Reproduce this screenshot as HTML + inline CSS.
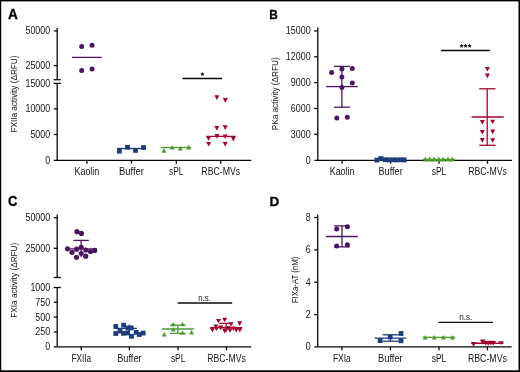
<!DOCTYPE html>
<html><head><meta charset="utf-8">
<style>
html,body{margin:0;padding:0;background:#fff;}
body{width:520px;height:372px;overflow:hidden;}
svg{display:block;will-change:transform;filter:blur(0.3px);font-variant-ligatures:none;font-family:"Liberation Sans",sans-serif;}
</style></head>
<body>
<svg width="520" height="372" viewBox="0 0 520 372">
<rect x="0" y="0" width="520" height="372" fill="#fff"/>
<text x="8.0" y="18.9" font-size="14" text-anchor="start" font-weight="bold" fill="#000" textLength="9.9" lengthAdjust="spacingAndGlyphs" stroke="#000" stroke-width="0.3">A</text>
<line x1="57.2" y1="28" x2="57.2" y2="79.7" stroke="#080808" stroke-width="1.3"/>
<line x1="57.2" y1="83.4" x2="57.2" y2="160.3" stroke="#080808" stroke-width="1.3"/>
<line x1="53.7" y1="79.7" x2="60.8" y2="79.7" stroke="#080808" stroke-width="1.3"/>
<line x1="53.7" y1="83.4" x2="60.8" y2="83.4" stroke="#080808" stroke-width="1.3"/>
<line x1="53.8" y1="30.9" x2="57.2" y2="30.9" stroke="#080808" stroke-width="1.3"/>
<text x="50.2" y="34.3" font-size="10.2" text-anchor="end" font-weight="normal" fill="#141414" textLength="24.75" lengthAdjust="spacingAndGlyphs">50000</text>
<line x1="53.8" y1="65.6" x2="57.2" y2="65.6" stroke="#080808" stroke-width="1.3"/>
<text x="50.2" y="69.0" font-size="10.2" text-anchor="end" font-weight="normal" fill="#141414" textLength="24.75" lengthAdjust="spacingAndGlyphs">25000</text>
<text x="50.2" y="86.8" font-size="10.2" text-anchor="end" font-weight="normal" fill="#141414" textLength="24.75" lengthAdjust="spacingAndGlyphs">15000</text>
<line x1="53.8" y1="108.9" x2="57.2" y2="108.9" stroke="#080808" stroke-width="1.3"/>
<text x="50.2" y="112.3" font-size="10.2" text-anchor="end" font-weight="normal" fill="#141414" textLength="24.75" lengthAdjust="spacingAndGlyphs">10000</text>
<line x1="53.8" y1="134.5" x2="57.2" y2="134.5" stroke="#080808" stroke-width="1.3"/>
<text x="50.2" y="137.9" font-size="10.2" text-anchor="end" font-weight="normal" fill="#141414" textLength="19.8" lengthAdjust="spacingAndGlyphs">5000</text>
<text x="50.2" y="163.6" font-size="10.2" text-anchor="end" font-weight="normal" fill="#141414" textLength="4.95" lengthAdjust="spacingAndGlyphs">0</text>
<line x1="53.8" y1="160.3" x2="251.3" y2="160.3" stroke="#080808" stroke-width="1.3"/>
<line x1="86.9" y1="160.3" x2="86.9" y2="163.70000000000002" stroke="#080808" stroke-width="1.3"/>
<text x="86.9" y="175.1" font-size="10.1" text-anchor="middle" font-weight="normal" fill="#141414" textLength="24.9" lengthAdjust="spacingAndGlyphs">Kaolin</text>
<line x1="131.5" y1="160.3" x2="131.5" y2="163.70000000000002" stroke="#080808" stroke-width="1.3"/>
<text x="131.5" y="175.1" font-size="10.1" text-anchor="middle" font-weight="normal" fill="#141414" textLength="24.8" lengthAdjust="spacingAndGlyphs">Buffer</text>
<line x1="176.3" y1="160.3" x2="176.3" y2="163.70000000000002" stroke="#080808" stroke-width="1.3"/>
<text x="176.3" y="175.1" font-size="10.1" text-anchor="middle" font-weight="normal" fill="#141414" textLength="14.5" lengthAdjust="spacingAndGlyphs">sPL</text>
<line x1="220.8" y1="160.3" x2="220.8" y2="163.70000000000002" stroke="#080808" stroke-width="1.3"/>
<text x="220.8" y="175.1" font-size="10.1" text-anchor="middle" font-weight="normal" fill="#141414" textLength="38.9" lengthAdjust="spacingAndGlyphs">RBC-MVs</text>
<text transform="translate(17.3,94) rotate(-90)" x="0" y="0" font-size="9.7" text-anchor="middle" fill="#141414" textLength="77" lengthAdjust="spacingAndGlyphs">FXIIa activity (ΔRFU)</text>
<line x1="72" y1="57.4" x2="101.7" y2="57.4" stroke="#4a1762" stroke-width="1.3"/>
<circle cx="81.7" cy="46.5" r="2.5" fill="#4a1762"/>
<circle cx="92.1" cy="45.3" r="2.5" fill="#4a1762"/>
<circle cx="81.7" cy="70.5" r="2.5" fill="#4a1762"/>
<circle cx="92.1" cy="69.0" r="2.5" fill="#4a1762"/>
<line x1="117" y1="148.5" x2="146" y2="148.5" stroke="#1d3c7c" stroke-width="1.3"/>
<rect x="117.00" y="148.80" width="4.8" height="4.8" fill="#1d3c7c"/>
<rect x="125.10" y="144.90" width="4.8" height="4.8" fill="#1d3c7c"/>
<rect x="133.10" y="148.00" width="4.8" height="4.8" fill="#1d3c7c"/>
<rect x="141.10" y="145.10" width="4.8" height="4.8" fill="#1d3c7c"/>
<line x1="161" y1="147.5" x2="191" y2="147.5" stroke="#4b9b2d" stroke-width="1.3"/>
<polygon points="164.00,148.10 166.50,152.70 161.50,152.70" fill="#4b9b2d"/>
<polygon points="172.10,145.00 174.60,149.60 169.60,149.60" fill="#4b9b2d"/>
<polygon points="180.30,146.00 182.80,150.60 177.80,150.60" fill="#4b9b2d"/>
<polygon points="188.60,144.80 191.10,149.60 186.10,149.60" fill="#4b9b2d"/>
<line x1="206" y1="136.4" x2="235.7" y2="136.4" stroke="#a3032b" stroke-width="1.3"/>
<polygon points="214.40,95.30 219.40,95.30 216.90,99.90" fill="#a3032b"/>
<polygon points="222.80,98.00 227.80,98.00 225.30,102.80" fill="#a3032b"/>
<polygon points="214.30,126.10 219.30,126.10 216.80,130.70" fill="#a3032b"/>
<polygon points="222.70,125.20 227.70,125.20 225.20,129.90" fill="#a3032b"/>
<polygon points="214.50,134.00 219.50,134.00 217.00,138.70" fill="#a3032b"/>
<polygon points="222.70,134.40 227.70,134.40 225.20,138.90" fill="#a3032b"/>
<polygon points="206.10,136.30 211.10,136.30 208.60,140.80" fill="#a3032b"/>
<polygon points="230.80,136.60 235.80,136.60 233.30,141.40" fill="#a3032b"/>
<polygon points="206.20,141.90 211.20,141.90 208.70,146.50" fill="#a3032b"/>
<polygon points="222.70,141.90 227.70,141.90 225.20,146.60" fill="#a3032b"/>
<line x1="182.5" y1="78.5" x2="222.1" y2="78.5" stroke="#080808" stroke-width="1.3"/>
<polygon points="202.40,72.00 203.05,73.31 204.49,73.52 203.45,74.54 203.69,75.98 202.40,75.30 201.11,75.98 201.35,74.54 200.31,73.52 201.75,73.31" fill="#111"/>
<text x="269.3" y="18.9" font-size="13.6" text-anchor="start" font-weight="bold" fill="#000" textLength="8.6" lengthAdjust="spacingAndGlyphs" stroke="#000" stroke-width="0.3">B</text>
<line x1="317.8" y1="27.6" x2="317.8" y2="160.3" stroke="#080808" stroke-width="1.3"/>
<line x1="314.2" y1="30.9" x2="317.8" y2="30.9" stroke="#080808" stroke-width="1.3"/>
<text x="310.6" y="34.3" font-size="10.2" text-anchor="end" font-weight="normal" fill="#141414" textLength="24.75" lengthAdjust="spacingAndGlyphs">15000</text>
<line x1="314.2" y1="56.8" x2="317.8" y2="56.8" stroke="#080808" stroke-width="1.3"/>
<text x="310.6" y="60.2" font-size="10.2" text-anchor="end" font-weight="normal" fill="#141414" textLength="24.75" lengthAdjust="spacingAndGlyphs">12000</text>
<line x1="314.2" y1="82.6" x2="317.8" y2="82.6" stroke="#080808" stroke-width="1.3"/>
<text x="310.6" y="86.0" font-size="10.2" text-anchor="end" font-weight="normal" fill="#141414" textLength="19.8" lengthAdjust="spacingAndGlyphs">9000</text>
<line x1="314.2" y1="108.5" x2="317.8" y2="108.5" stroke="#080808" stroke-width="1.3"/>
<text x="310.6" y="111.9" font-size="10.2" text-anchor="end" font-weight="normal" fill="#141414" textLength="19.8" lengthAdjust="spacingAndGlyphs">6000</text>
<line x1="314.2" y1="134.3" x2="317.8" y2="134.3" stroke="#080808" stroke-width="1.3"/>
<text x="310.6" y="137.7" font-size="10.2" text-anchor="end" font-weight="normal" fill="#141414" textLength="19.8" lengthAdjust="spacingAndGlyphs">3000</text>
<text x="310.6" y="163.7" font-size="10.2" text-anchor="end" font-weight="normal" fill="#141414" textLength="4.95" lengthAdjust="spacingAndGlyphs">0</text>
<line x1="314.4" y1="160.3" x2="511.9" y2="160.3" stroke="#080808" stroke-width="1.3"/>
<line x1="342.1" y1="160.3" x2="342.1" y2="163.70000000000002" stroke="#080808" stroke-width="1.3"/>
<text x="342.1" y="175.1" font-size="10.1" text-anchor="middle" font-weight="normal" fill="#141414" textLength="24.8" lengthAdjust="spacingAndGlyphs">Kaolin</text>
<line x1="390.6" y1="160.3" x2="390.6" y2="163.70000000000002" stroke="#080808" stroke-width="1.3"/>
<text x="390.6" y="175.1" font-size="10.1" text-anchor="middle" font-weight="normal" fill="#141414" textLength="24.2" lengthAdjust="spacingAndGlyphs">Buffer</text>
<line x1="439.0" y1="160.3" x2="439.0" y2="163.70000000000002" stroke="#080808" stroke-width="1.3"/>
<text x="439.0" y="175.1" font-size="10.1" text-anchor="middle" font-weight="normal" fill="#141414" textLength="14.6" lengthAdjust="spacingAndGlyphs">sPL</text>
<line x1="487.5" y1="160.3" x2="487.5" y2="163.70000000000002" stroke="#080808" stroke-width="1.3"/>
<text x="487.5" y="175.1" font-size="10.1" text-anchor="middle" font-weight="normal" fill="#141414" textLength="38.7" lengthAdjust="spacingAndGlyphs">RBC-MVs</text>
<text transform="translate(278.3,93.8) rotate(-90)" x="0" y="0" font-size="9.7" text-anchor="middle" fill="#141414" textLength="73" lengthAdjust="spacingAndGlyphs">PKa activity (ΔRFU)</text>
<line x1="341.9" y1="66.4" x2="341.9" y2="107.2" stroke="#4a1762" stroke-width="1.3"/>
<line x1="333.9" y1="66.4" x2="349.9" y2="66.4" stroke="#4a1762" stroke-width="1.3"/>
<line x1="333.9" y1="107.2" x2="349.9" y2="107.2" stroke="#4a1762" stroke-width="1.3"/>
<line x1="326.1" y1="86.6" x2="357.9" y2="86.6" stroke="#4a1762" stroke-width="1.3"/>
<circle cx="331.6" cy="72.4" r="2.5" fill="#4a1762"/>
<circle cx="341.9" cy="69.1" r="2.5" fill="#4a1762"/>
<circle cx="352.3" cy="68.5" r="2.5" fill="#4a1762"/>
<circle cx="341.9" cy="76.9" r="2.5" fill="#4a1762"/>
<circle cx="352.3" cy="83.0" r="2.5" fill="#4a1762"/>
<circle cx="341.9" cy="87.5" r="2.5" fill="#4a1762"/>
<circle cx="336.8" cy="118.0" r="2.5" fill="#4a1762"/>
<circle cx="347.3" cy="117.3" r="2.5" fill="#4a1762"/>
<rect x="374.50" y="157.70" width="4.8" height="4.8" fill="#1d3c7c"/>
<rect x="378.40" y="156.10" width="4.8" height="4.8" fill="#1d3c7c"/>
<rect x="382.80" y="157.30" width="4.8" height="4.8" fill="#1d3c7c"/>
<rect x="386.80" y="157.50" width="4.8" height="4.8" fill="#1d3c7c"/>
<rect x="390.80" y="157.40" width="4.8" height="4.8" fill="#1d3c7c"/>
<rect x="394.80" y="157.50" width="4.8" height="4.8" fill="#1d3c7c"/>
<rect x="398.80" y="157.40" width="4.8" height="4.8" fill="#1d3c7c"/>
<rect x="401.80" y="157.50" width="4.8" height="4.8" fill="#1d3c7c"/>
<polygon points="425.40,156.60 427.90,161.60 422.90,161.60" fill="#4b9b2d"/>
<polygon points="429.60,156.60 432.10,161.60 427.10,161.60" fill="#4b9b2d"/>
<polygon points="434.20,156.60 436.70,161.60 431.70,161.60" fill="#4b9b2d"/>
<polygon points="438.80,156.60 441.30,161.60 436.30,161.60" fill="#4b9b2d"/>
<polygon points="443.00,156.60 445.50,161.60 440.50,161.60" fill="#4b9b2d"/>
<polygon points="448.00,156.60 450.50,161.60 445.50,161.60" fill="#4b9b2d"/>
<polygon points="452.30,156.60 454.80,161.60 449.80,161.60" fill="#4b9b2d"/>
<line x1="423" y1="159.6" x2="455" y2="159.6" stroke="#4b9b2d" stroke-width="1.6"/>
<line x1="487.2" y1="88.8" x2="487.2" y2="145.3" stroke="#a3032b" stroke-width="1.3"/>
<line x1="479.2" y1="88.8" x2="495.6" y2="88.8" stroke="#a3032b" stroke-width="1.3"/>
<line x1="479.2" y1="145.3" x2="495.6" y2="145.3" stroke="#a3032b" stroke-width="1.3"/>
<line x1="471.5" y1="117.0" x2="503.7" y2="117.0" stroke="#a3032b" stroke-width="1.3"/>
<polygon points="484.90,67.00 489.90,67.00 487.40,71.60" fill="#a3032b"/>
<polygon points="484.90,73.40 489.90,73.40 487.40,78.20" fill="#a3032b"/>
<polygon points="479.80,120.10 484.80,120.10 482.30,124.50" fill="#a3032b"/>
<polygon points="490.20,119.70 495.20,119.70 492.70,124.00" fill="#a3032b"/>
<polygon points="479.80,130.00 484.80,130.00 482.30,134.60" fill="#a3032b"/>
<polygon points="490.20,129.60 495.20,129.60 492.70,134.20" fill="#a3032b"/>
<polygon points="479.80,138.10 484.80,138.10 482.30,142.70" fill="#a3032b"/>
<polygon points="490.20,138.20 495.20,138.20 492.70,142.80" fill="#a3032b"/>
<line x1="441" y1="50.5" x2="489.9" y2="50.5" stroke="#080808" stroke-width="1.3"/>
<polygon points="461.60,43.80 462.25,45.11 463.69,45.32 462.65,46.34 462.89,47.78 461.60,47.10 460.31,47.78 460.55,46.34 459.51,45.32 460.95,45.11" fill="#111"/>
<polygon points="465.60,43.80 466.25,45.11 467.69,45.32 466.65,46.34 466.89,47.78 465.60,47.10 464.31,47.78 464.55,46.34 463.51,45.32 464.95,45.11" fill="#111"/>
<polygon points="469.60,43.80 470.25,45.11 471.69,45.32 470.65,46.34 470.89,47.78 469.60,47.10 468.31,47.78 468.55,46.34 467.51,45.32 468.95,45.11" fill="#111"/>
<text x="8.0" y="205.9" font-size="13.8" text-anchor="start" font-weight="bold" fill="#000" textLength="9.4" lengthAdjust="spacingAndGlyphs" stroke="#000" stroke-width="0.3">C</text>
<line x1="57.2" y1="214.5" x2="57.2" y2="277.5" stroke="#080808" stroke-width="1.3"/>
<line x1="57.2" y1="287.5" x2="57.2" y2="346.8" stroke="#080808" stroke-width="1.3"/>
<line x1="53.7" y1="277.5" x2="60.8" y2="277.5" stroke="#080808" stroke-width="1.3"/>
<line x1="53.7" y1="287.5" x2="60.8" y2="287.5" stroke="#080808" stroke-width="1.3"/>
<line x1="53.8" y1="217.7" x2="57.2" y2="217.7" stroke="#080808" stroke-width="1.3"/>
<text x="50.2" y="221.1" font-size="10.2" text-anchor="end" font-weight="normal" fill="#141414" textLength="24.75" lengthAdjust="spacingAndGlyphs">50000</text>
<line x1="53.8" y1="248.3" x2="57.2" y2="248.3" stroke="#080808" stroke-width="1.3"/>
<text x="50.2" y="251.7" font-size="10.2" text-anchor="end" font-weight="normal" fill="#141414" textLength="24.75" lengthAdjust="spacingAndGlyphs">25000</text>
<text x="50.2" y="290.9" font-size="10.2" text-anchor="end" font-weight="normal" fill="#141414" textLength="19.8" lengthAdjust="spacingAndGlyphs">1000</text>
<line x1="53.8" y1="302.3" x2="57.2" y2="302.3" stroke="#080808" stroke-width="1.3"/>
<text x="50.2" y="305.7" font-size="10.2" text-anchor="end" font-weight="normal" fill="#141414" textLength="14.85" lengthAdjust="spacingAndGlyphs">750</text>
<line x1="53.8" y1="317.1" x2="57.2" y2="317.1" stroke="#080808" stroke-width="1.3"/>
<text x="50.2" y="320.5" font-size="10.2" text-anchor="end" font-weight="normal" fill="#141414" textLength="14.85" lengthAdjust="spacingAndGlyphs">500</text>
<line x1="53.8" y1="332.0" x2="57.2" y2="332.0" stroke="#080808" stroke-width="1.3"/>
<text x="50.2" y="335.4" font-size="10.2" text-anchor="end" font-weight="normal" fill="#141414" textLength="14.85" lengthAdjust="spacingAndGlyphs">250</text>
<text x="50.2" y="350.1" font-size="10.2" text-anchor="end" font-weight="normal" fill="#141414" textLength="4.95" lengthAdjust="spacingAndGlyphs">0</text>
<line x1="53.8" y1="346.8" x2="251.2" y2="346.8" stroke="#080808" stroke-width="1.3"/>
<line x1="81.3" y1="346.8" x2="81.3" y2="350.2" stroke="#080808" stroke-width="1.3"/>
<text x="81.3" y="361.6" font-size="10.1" text-anchor="middle" font-weight="normal" fill="#141414" textLength="19.7" lengthAdjust="spacingAndGlyphs">FXIIa</text>
<line x1="129.4" y1="346.8" x2="129.4" y2="350.2" stroke="#080808" stroke-width="1.3"/>
<text x="129.4" y="361.6" font-size="10.1" text-anchor="middle" font-weight="normal" fill="#141414" textLength="24.4" lengthAdjust="spacingAndGlyphs">Buffer</text>
<line x1="178.1" y1="346.8" x2="178.1" y2="350.2" stroke="#080808" stroke-width="1.3"/>
<text x="178.1" y="361.6" font-size="10.1" text-anchor="middle" font-weight="normal" fill="#141414" textLength="14.4" lengthAdjust="spacingAndGlyphs">sPL</text>
<line x1="226.5" y1="346.8" x2="226.5" y2="350.2" stroke="#080808" stroke-width="1.3"/>
<text x="226.5" y="361.6" font-size="10.1" text-anchor="middle" font-weight="normal" fill="#141414" textLength="38.5" lengthAdjust="spacingAndGlyphs">RBC-MVs</text>
<text transform="translate(17.4,280.2) rotate(-90)" x="0" y="0" font-size="9.7" text-anchor="middle" fill="#141414" textLength="75" lengthAdjust="spacingAndGlyphs">FXIa activity (ΔRFU)</text>
<line x1="81.1" y1="240.4" x2="81.1" y2="257" stroke="#4a1762" stroke-width="1.3"/>
<line x1="73.3" y1="240.4" x2="88.9" y2="240.4" stroke="#4a1762" stroke-width="1.3"/>
<line x1="65.2" y1="248.9" x2="97" y2="248.9" stroke="#4a1762" stroke-width="1.3"/>
<circle cx="77.0" cy="231.7" r="2.6" fill="#4a1762"/>
<circle cx="81.4" cy="233.4" r="2.6" fill="#4a1762"/>
<circle cx="67.5" cy="248.8" r="2.6" fill="#4a1762"/>
<circle cx="72.0" cy="252.3" r="2.6" fill="#4a1762"/>
<circle cx="76.6" cy="249.2" r="2.6" fill="#4a1762"/>
<circle cx="81.2" cy="247.3" r="2.6" fill="#4a1762"/>
<circle cx="81.2" cy="253.5" r="2.6" fill="#4a1762"/>
<circle cx="76.5" cy="257.3" r="2.6" fill="#4a1762"/>
<circle cx="85.7" cy="256.2" r="2.6" fill="#4a1762"/>
<circle cx="85.8" cy="250.0" r="2.6" fill="#4a1762"/>
<circle cx="90.5" cy="251.5" r="2.6" fill="#4a1762"/>
<circle cx="94.7" cy="250.4" r="2.6" fill="#4a1762"/>
<line x1="116" y1="328.4" x2="137" y2="328.4" stroke="#1d3c7c" stroke-width="1.3"/>
<line x1="129.4" y1="324.5" x2="129.4" y2="334" stroke="#1d3c7c" stroke-width="1.3"/>
<rect x="113.40" y="324.10" width="4.8" height="4.8" fill="#1d3c7c"/>
<rect x="121.20" y="322.80" width="4.8" height="4.8" fill="#1d3c7c"/>
<rect x="113.40" y="331.10" width="4.8" height="4.8" fill="#1d3c7c"/>
<rect x="117.60" y="328.60" width="4.8" height="4.8" fill="#1d3c7c"/>
<rect x="121.10" y="330.90" width="4.8" height="4.8" fill="#1d3c7c"/>
<rect x="125.60" y="325.60" width="4.8" height="4.8" fill="#1d3c7c"/>
<rect x="128.80" y="325.50" width="4.8" height="4.8" fill="#1d3c7c"/>
<rect x="125.10" y="330.60" width="4.8" height="4.8" fill="#1d3c7c"/>
<rect x="129.10" y="333.90" width="4.8" height="4.8" fill="#1d3c7c"/>
<rect x="133.80" y="330.00" width="4.8" height="4.8" fill="#1d3c7c"/>
<rect x="136.90" y="332.10" width="4.8" height="4.8" fill="#1d3c7c"/>
<rect x="140.80" y="330.70" width="4.8" height="4.8" fill="#1d3c7c"/>
<line x1="161.9" y1="329.0" x2="193.9" y2="329.0" stroke="#4b9b2d" stroke-width="1.3"/>
<line x1="177.8" y1="325.2" x2="177.8" y2="333.4" stroke="#4b9b2d" stroke-width="1.3"/>
<line x1="170.1" y1="325.2" x2="185.7" y2="325.2" stroke="#4b9b2d" stroke-width="1.3"/>
<line x1="170.1" y1="333.4" x2="185.7" y2="333.4" stroke="#4b9b2d" stroke-width="1.3"/>
<polygon points="173.20,321.90 175.70,326.30 170.70,326.30" fill="#4b9b2d"/>
<polygon points="182.50,321.90 185.00,326.30 180.00,326.30" fill="#4b9b2d"/>
<polygon points="173.20,327.10 175.70,331.50 170.70,331.50" fill="#4b9b2d"/>
<polygon points="182.50,330.40 185.00,334.80 180.00,334.80" fill="#4b9b2d"/>
<polygon points="164.30,332.00 166.80,336.60 161.80,336.60" fill="#4b9b2d"/>
<polygon points="191.50,330.00 194.00,334.50 189.00,334.50" fill="#4b9b2d"/>
<line x1="210.4" y1="327.6" x2="242.2" y2="327.6" stroke="#a3032b" stroke-width="1.3"/>
<line x1="219.3" y1="323.4" x2="233.0" y2="323.4" stroke="#a3032b" stroke-width="1.3"/>
<line x1="226.2" y1="323.4" x2="226.2" y2="332" stroke="#a3032b" stroke-width="1.3"/>
<polygon points="216.00,319.10 221.00,319.10 218.50,323.30" fill="#a3032b"/>
<polygon points="222.20,317.80 227.20,317.80 224.70,322.20" fill="#a3032b"/>
<polygon points="237.20,321.20 242.20,321.20 239.70,326.00" fill="#a3032b"/>
<polygon points="228.50,322.30 233.50,322.30 231.00,326.40" fill="#a3032b"/>
<polygon points="213.30,324.50 218.30,324.50 215.80,328.60" fill="#a3032b"/>
<polygon points="209.90,327.40 214.90,327.40 212.40,332.60" fill="#a3032b"/>
<polygon points="218.10,325.60 223.10,325.60 220.60,330.40" fill="#a3032b"/>
<polygon points="222.10,328.40 227.10,328.40 224.60,333.60" fill="#a3032b"/>
<polygon points="227.60,328.20 232.60,328.20 230.10,332.80" fill="#a3032b"/>
<polygon points="233.80,327.80 238.80,327.80 236.30,332.60" fill="#a3032b"/>
<polygon points="237.30,327.80 242.30,327.80 239.80,332.40" fill="#a3032b"/>
<polygon points="214.00,326.80 219.00,326.80 216.50,331.00" fill="#a3032b"/>
<polygon points="225.50,326.00 230.50,326.00 228.00,330.60" fill="#a3032b"/>
<polygon points="231.00,326.50 236.00,326.50 233.50,331.00" fill="#a3032b"/>
<line x1="177.8" y1="303.0" x2="232.2" y2="303.0" stroke="#080808" stroke-width="1.3"/>
<text x="204.6" y="300.8" font-size="9" text-anchor="middle" font-weight="normal" fill="#141414" textLength="12.6" lengthAdjust="spacingAndGlyphs">n.s.</text>
<text x="269.4" y="205.9" font-size="13.6" text-anchor="start" font-weight="bold" fill="#000" textLength="9.8" lengthAdjust="spacingAndGlyphs" stroke="#000" stroke-width="0.3">D</text>
<line x1="317.7" y1="214.7" x2="317.7" y2="346.8" stroke="#080808" stroke-width="1.3"/>
<line x1="314.2" y1="217.5" x2="317.7" y2="217.5" stroke="#080808" stroke-width="1.3"/>
<text x="310.6" y="220.9" font-size="10.2" text-anchor="end" font-weight="normal" fill="#141414" textLength="4.95" lengthAdjust="spacingAndGlyphs">8</text>
<line x1="314.2" y1="249.9" x2="317.7" y2="249.9" stroke="#080808" stroke-width="1.3"/>
<text x="310.6" y="253.3" font-size="10.2" text-anchor="end" font-weight="normal" fill="#141414" textLength="4.95" lengthAdjust="spacingAndGlyphs">6</text>
<line x1="314.2" y1="282.2" x2="317.7" y2="282.2" stroke="#080808" stroke-width="1.3"/>
<text x="310.6" y="285.6" font-size="10.2" text-anchor="end" font-weight="normal" fill="#141414" textLength="4.95" lengthAdjust="spacingAndGlyphs">4</text>
<line x1="314.2" y1="314.6" x2="317.7" y2="314.6" stroke="#080808" stroke-width="1.3"/>
<text x="310.6" y="318.0" font-size="10.2" text-anchor="end" font-weight="normal" fill="#141414" textLength="4.95" lengthAdjust="spacingAndGlyphs">2</text>
<text x="310.6" y="350.4" font-size="10.2" text-anchor="end" font-weight="normal" fill="#141414" textLength="4.95" lengthAdjust="spacingAndGlyphs">0</text>
<line x1="314.4" y1="346.8" x2="511.6" y2="346.8" stroke="#080808" stroke-width="1.3"/>
<line x1="341.9" y1="346.8" x2="341.9" y2="350.2" stroke="#080808" stroke-width="1.3"/>
<text x="341.9" y="361.6" font-size="10.1" text-anchor="middle" font-weight="normal" fill="#141414" textLength="17.9" lengthAdjust="spacingAndGlyphs">FXIa</text>
<line x1="390.4" y1="346.8" x2="390.4" y2="350.2" stroke="#080808" stroke-width="1.3"/>
<text x="390.4" y="361.6" font-size="10.1" text-anchor="middle" font-weight="normal" fill="#141414" textLength="24.6" lengthAdjust="spacingAndGlyphs">Buffer</text>
<line x1="439.0" y1="346.8" x2="439.0" y2="350.2" stroke="#080808" stroke-width="1.3"/>
<text x="439.0" y="361.6" font-size="10.1" text-anchor="middle" font-weight="normal" fill="#141414" textLength="14.7" lengthAdjust="spacingAndGlyphs">sPL</text>
<line x1="487.4" y1="346.8" x2="487.4" y2="350.2" stroke="#080808" stroke-width="1.3"/>
<text x="487.4" y="361.6" font-size="10.1" text-anchor="middle" font-weight="normal" fill="#141414" textLength="39.0" lengthAdjust="spacingAndGlyphs">RBC-MVs</text>
<text transform="translate(297.7,279.9) rotate(-90)" x="0" y="0" font-size="9.7" text-anchor="middle" fill="#141414" textLength="46.7" lengthAdjust="spacingAndGlyphs">FIXa-AT (nM)</text>
<line x1="342" y1="225.9" x2="342" y2="246.9" stroke="#4a1762" stroke-width="1.3"/>
<line x1="334" y1="225.9" x2="349.6" y2="225.9" stroke="#4a1762" stroke-width="1.3"/>
<line x1="334" y1="246.9" x2="349.6" y2="246.9" stroke="#4a1762" stroke-width="1.3"/>
<line x1="325.9" y1="236.5" x2="357.8" y2="236.5" stroke="#4a1762" stroke-width="1.3"/>
<circle cx="336.7" cy="229.1" r="2.5" fill="#4a1762"/>
<circle cx="347.4" cy="226.7" r="2.5" fill="#4a1762"/>
<circle cx="336.7" cy="246.0" r="2.5" fill="#4a1762"/>
<circle cx="347.4" cy="244.7" r="2.5" fill="#4a1762"/>
<line x1="390.4" y1="334.8" x2="390.4" y2="341.2" stroke="#1d3c7c" stroke-width="1.3"/>
<line x1="382.7" y1="334.8" x2="398.8" y2="334.8" stroke="#1d3c7c" stroke-width="1.3"/>
<line x1="382.7" y1="341.2" x2="398.8" y2="341.2" stroke="#1d3c7c" stroke-width="1.3"/>
<line x1="374.6" y1="338.1" x2="406.2" y2="338.1" stroke="#1d3c7c" stroke-width="1.3"/>
<rect x="377.80" y="338.20" width="4.8" height="4.8" fill="#1d3c7c"/>
<rect x="387.80" y="334.50" width="4.8" height="4.8" fill="#1d3c7c"/>
<rect x="398.60" y="331.10" width="4.8" height="4.8" fill="#1d3c7c"/>
<rect x="398.60" y="338.40" width="4.8" height="4.8" fill="#1d3c7c"/>
<line x1="423" y1="337.3" x2="454.9" y2="337.3" stroke="#4b9b2d" stroke-width="1.3"/>
<polygon points="425.30,335.00 427.80,339.60 422.80,339.60" fill="#4b9b2d"/>
<polygon points="434.40,335.00 436.90,339.60 431.90,339.60" fill="#4b9b2d"/>
<polygon points="443.40,335.00 445.90,339.60 440.90,339.60" fill="#4b9b2d"/>
<polygon points="452.50,335.00 455.00,339.60 450.00,339.60" fill="#4b9b2d"/>
<line x1="471.5" y1="343.3" x2="503.4" y2="343.3" stroke="#a3032b" stroke-width="1.5"/>
<polygon points="470.80,341.90 476.40,341.90 473.60,346.80" fill="#a3032b"/>
<polygon points="480.00,339.40 485.60,339.40 482.80,344.40" fill="#a3032b"/>
<polygon points="482.80,341.00 488.40,341.00 485.60,345.60" fill="#a3032b"/>
<polygon points="485.40,341.20 491.00,341.20 488.20,345.80" fill="#a3032b"/>
<polygon points="488.10,340.80 493.70,340.80 490.90,345.50" fill="#a3032b"/>
<polygon points="490.50,341.10 496.10,341.10 493.30,345.60" fill="#a3032b"/>
<polygon points="498.30,341.20 503.90,341.20 501.10,345.00" fill="#a3032b"/>
<line x1="438.7" y1="322.4" x2="493.0" y2="322.4" stroke="#080808" stroke-width="1.3"/>
<text x="465.8" y="319.7" font-size="9" text-anchor="middle" font-weight="normal" fill="#141414" textLength="13.1" lengthAdjust="spacingAndGlyphs">n.s.</text>
<rect x="0" y="0" width="1.2" height="372" fill="#000"/>
<rect x="0" y="0" width="520" height="1.4" fill="#000"/>
<rect x="518.5" y="0" width="1.5" height="372" fill="#000"/>
<rect x="0" y="370.3" width="520" height="1.7" fill="#000"/>
</svg>
</body></html>
